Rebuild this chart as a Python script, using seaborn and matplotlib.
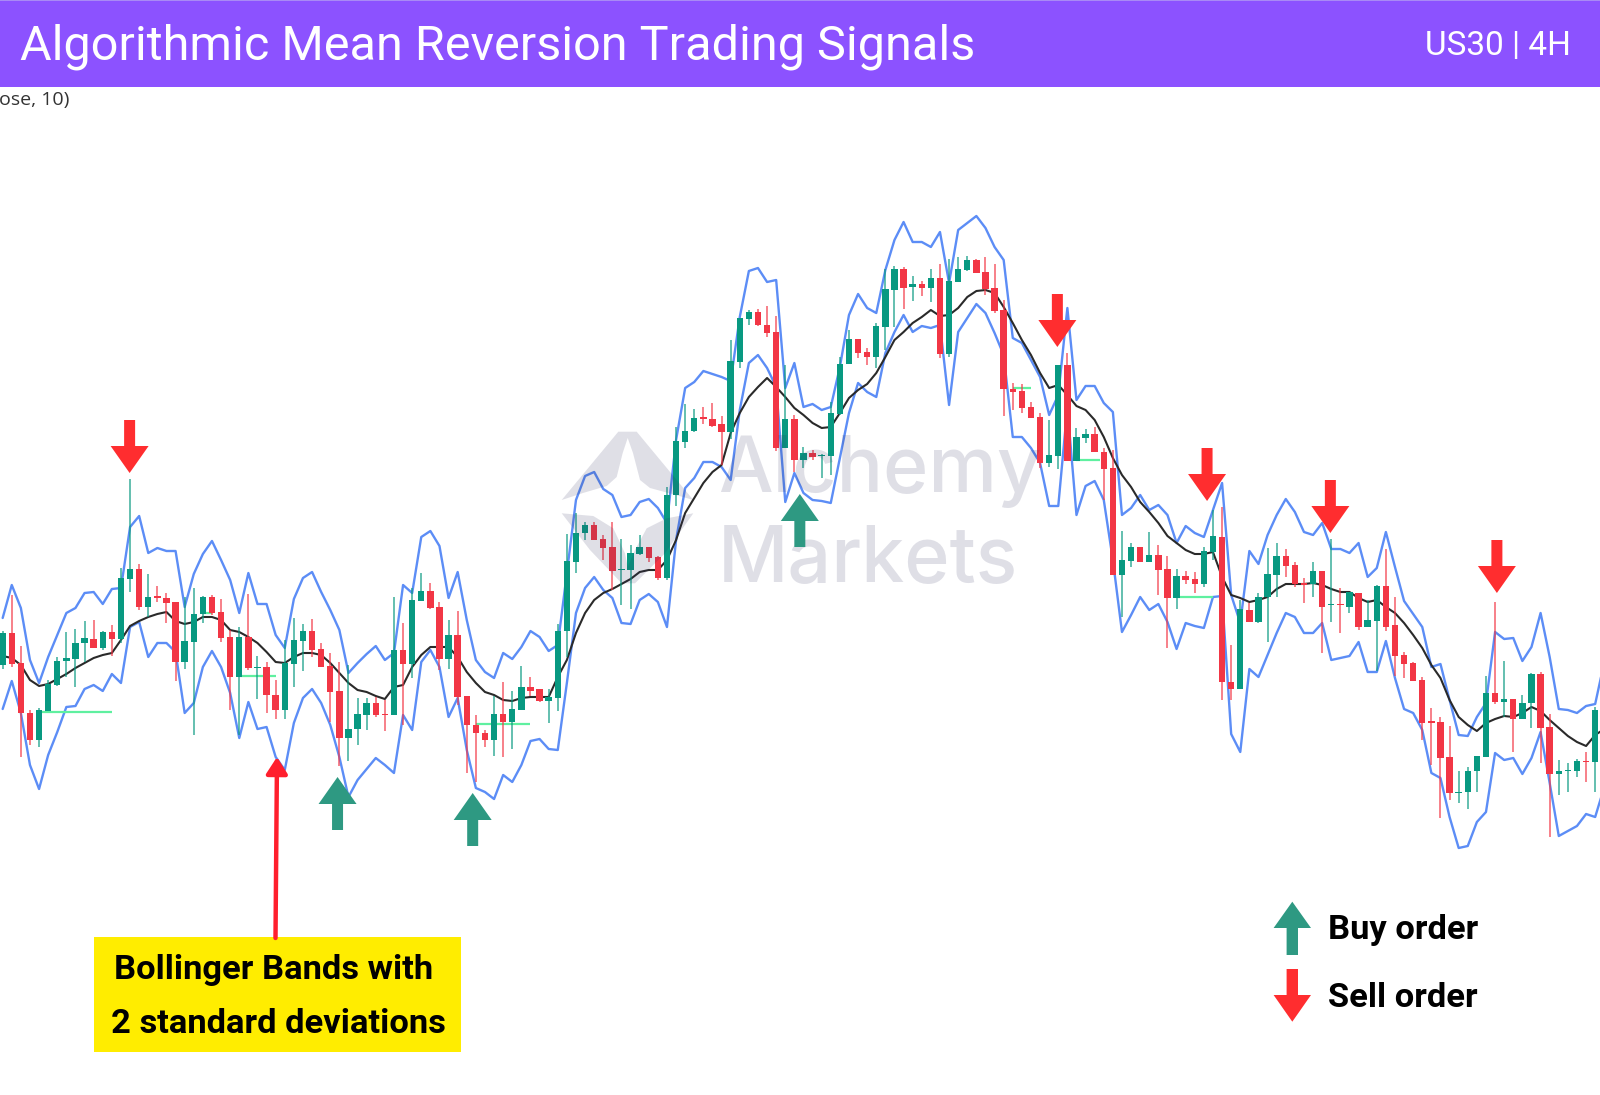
import numpy as np
import matplotlib.pyplot as plt
import seaborn as sns
from matplotlib.patches import Rectangle, Polygon

# candles, left to right (price scale is arbitrary, the chart has no axis)
open_ = [430,462,432,382,355,384,410,434,436,452,
         456,447,463,456,516,526,488,499,497,493,
         433,453,481,498,483,458,418,458,427,428,
         400,385,431,454,464,446,429,404,357,366,
         380,392,381,380,445,431,494,504,488,436,
         460,399,370,362,355,381,373,385,408,406,
         394,397,464,533,562,570,556,548,525,525,
         541,548,538,517,600,653,664,678,676,671,
         663,733,776,783,770,763,647,676,635,642,
         639,639,681,731,756,743,738,768,805,826,
         808,811,807,817,741,813,825,835,823,807,
         785,706,704,688,678,632,639,730,634,657,
         661,643,627,520,534,548,533,540,526,497,
         519,516,511,543,558,413,406,485,473,498,
         520,539,530,512,511,524,490,491,488,502,
         468,474,509,470,440,432,415,374,373,338,
         302,303,324,338,402,393,396,376,392,421,
         368,321,324,324,334,333]
close = [462,431,382,355,385,411,434,437,452,457,
         447,463,456,517,526,488,498,497,492,433,
         454,481,498,482,457,418,458,427,428,400,
         385,432,455,464,445,428,403,357,366,381,
         392,380,380,445,431,495,504,487,436,460,
         398,370,362,355,381,373,386,408,404,394,
         398,464,534,562,570,555,547,524,526,542,
         548,537,517,600,654,664,677,676,669,663,
         734,777,783,770,762,647,676,635,642,638,
         640,682,731,756,742,738,769,806,826,807,
         811,807,817,741,814,826,835,822,806,784,
         706,703,687,677,632,640,730,634,658,661,
         643,626,520,535,548,533,540,525,497,519,
         515,511,544,559,413,406,486,473,498,521,
         539,529,511,510,524,488,491,490,503,468,
         475,509,468,439,431,414,372,372,337,302,
         303,324,339,402,393,396,376,392,421,367,
         321,324,325,334,333,385]
high = [464,500,449,385,387,415,438,463,466,474,
        475,464,470,527,616,531,521,509,502,493,
        498,507,499,500,496,465,468,501,439,433,
        415,455,477,471,476,452,442,433,430,397,
        397,398,395,498,472,507,522,512,493,475,
        484,399,380,365,399,413,404,429,418,406,
        406,471,561,582,573,573,560,573,556,550,
        560,548,539,608,668,691,686,688,692,679,
        755,777,785,786,789,779,730,680,648,645,
        641,693,738,765,756,747,772,826,829,828,
        819,814,826,831,836,838,839,836,838,831,
        795,712,711,693,682,675,730,742,667,666,
        668,647,645,564,552,548,563,550,539,526,
        524,523,548,585,588,450,495,492,502,547,
        552,546,533,517,533,524,556,507,503,502,
        495,510,546,498,443,433,418,387,378,369,
        324,328,339,419,493,434,396,400,422,423,
        381,335,332,336,343,388]
low = [426,428,338,350,348,384,409,418,408,433,
       447,445,439,452,503,485,478,493,472,414,
       426,360,472,480,453,385,360,425,396,382,
       376,376,408,424,438,428,373,329,334,350,
       365,378,364,380,370,417,494,486,425,426,
       390,322,313,348,339,338,346,385,399,393,
       372,384,438,522,555,555,535,505,490,486,
       540,533,515,515,589,647,663,671,668,630,
       656,727,770,769,758,644,647,623,627,635,
       617,620,680,731,737,730,727,745,768,786,
       794,799,793,737,738,813,824,822,800,782,
       679,685,682,677,627,628,626,634,634,652,
       643,595,520,478,528,533,533,500,447,486,
       511,502,508,535,395,395,406,473,472,453,
       498,518,508,492,498,442,473,462,482,465,
       468,424,464,419,417,414,355,330,277,295,
       292,286,303,338,391,378,343,376,367,332,
       258,300,303,318,313,303]

# Bollinger bands and the SMA, one point per bar plus one off the right edge
upper = [477,510,487,435,412,438,460,482,487,502,
         503,491,506,507,568,579,542,547,544,544,
         488,521,541,554,535,515,482,522,491,491,
         460,447,496,517,523,503,485,465,422,432,
         441,449,435,442,510,502,558,564,549,497,
         523,475,435,423,417,442,436,448,464,458,
         444,450,522,595,619,623,606,600,578,580,
         593,596,587,572,655,707,713,724,721,718,
         714,778,824,827,813,815,707,732,688,691,
         685,688,728,780,801,787,782,825,855,873,
         853,853,848,863,812,865,872,879,867,848,
         835,757,752,735,718,680,700,787,695,709,
         709,692,683,580,587,600,585,590,580,552,
         569,562,558,585,612,500,472,544,531,560,
         580,596,583,563,560,572,546,546,542,552,
         518,527,563,528,494,481,468,428,431,395,
         360,359,378,392,463,456,457,434,448,482,
         438,386,385,382,389,391,433]
lower = [386,414,382,330,306,340,363,388,389,406,
         410,404,421,412,468,473,438,452,452,443,
         382,392,428,444,428,402,357,393,366,368,
         338,325,372,397,406,392,370,338,298,315,
         326,337,330,322,380,365,433,445,428,378,
         397,345,307,303,296,320,313,330,354,356,
         346,345,412,482,507,518,505,497,472,471,
         495,501,493,468,555,607,617,633,633,628,
         615,685,732,740,727,708,593,622,602,595,
         594,592,637,682,712,703,698,742,763,780,
         763,769,767,770,690,763,777,791,782,762,
         740,658,658,647,632,589,589,688,580,609,
         614,595,535,463,480,498,485,491,473,446,
         472,469,467,498,499,361,343,426,418,440,
         462,482,478,462,462,472,435,437,439,453,
         423,423,454,417,386,382,365,322,317,278,
         247,249,273,283,342,335,337,321,337,363,
         312,259,264,269,281,278,308]
sma = [439,437,430,415,409,411,416,421,427,432,
       437,440,442,455,469,474,478,481,483,474,
       471,473,478,478,475,465,463,458,452,443,
       433,432,438,442,442,440,432,422,412,405,
       403,399,396,408,410,428,440,448,448,448,
       438,423,412,403,400,395,394,397,398,398,
       398,418,435,462,482,495,502,506,511,516,
       523,525,525,535,555,582,597,612,623,630,
       662,682,698,708,717,708,698,687,680,672,
       667,668,682,697,705,711,722,738,755,763,
       772,778,785,779,780,787,798,804,805,802,
       788,772,755,740,722,707,710,700,689,685,
       675,658,637,620,608,593,583,572,559,552,
       545,541,541,543,518,500,497,493,495,498,
       506,511,511,511,512,510,506,503,503,497,
       493,495,488,482,472,460,447,430,417,395,
       378,370,364,372,376,379,378,382,388,384,
       375,367,359,353,349,360,366]

# light green level lines: (first bar, last bar, price)
level_start = [4, 26, 52, 111, 118, 129.2, 22]
level_end = [12, 30, 58, 113, 120.6, 133, 23]
level_price = [383, 419, 371, 707, 635, 498, 482]

# trade signals: bar position and the price the arrow tip points at
sell_x = [13.95, 115.9, 132.35, 145.9, 164.2]
sell_price = [622, 748, 594, 562, 502]
buy_x = [36.8, 51.65, 87.6]
buy_price = [318, 302, 601]

GREEN = "#089981"
RED = "#F23645"
BLUE = "#5C8DF6"
BUY_COL = "#2E9982"
SELL_COL = "#FF2D2F"
PURPLE = "#8C52FF"

sns.set_theme(style="white")
plt.rcParams["font.family"] = ["Roboto", "DejaVu Sans"]

fig = plt.figure(figsize=(16, 10.95), dpi=100)
ax = fig.add_axes([0, 0, 1, 1], zorder=1)
ax.set_axis_off()

# second layer measured in pixels, y going down, for the page furniture
ov = fig.add_axes([0, 0, 1, 1], zorder=2)
ov.set_xlim(0, 1600)
ov.set_ylim(1095, 0)
ov.set_axis_off()
ov.patch.set_alpha(0)

# lines go under the candles
band_x = np.arange(len(upper))
sns.lineplot(x=band_x, y=upper, ax=ax, color=BLUE, lw=1.7, zorder=2, errorbar=None)
sns.lineplot(x=band_x, y=lower, ax=ax, color=BLUE, lw=1.7, zorder=2, errorbar=None)
sns.lineplot(x=band_x, y=sma, ax=ax, color="#2A2A2A", lw=1.5, zorder=2, errorbar=None)

ax.hlines(level_price, level_start, level_end, color="#5FF0A0", lw=1.6, zorder=2)

bars = np.arange(len(open_))
o = np.array(open_)
c = np.array(close)
colors = [GREEN if up else RED for up in c > o]
ax.vlines(bars, low, high, color=colors, lw=1.1, alpha=0.8, zorder=3)
ax.bar(bars, np.abs(c - o), bottom=np.minimum(o, c), width=0.7, color=colors, lw=0, zorder=4)

# watermark sits on top of the candles and tints them slightly
WM = "#2B2B5B"
ax.add_patch(Polygon([(561.7,500),(618.3,431.7),(636.7,431.7),(693.3,500),(683,497),(650,488),(640,480),
                      (633,453),(627.7,438),(622.7,453),(616.7,477),(606.7,486),(583,493)],
                     closed=True, color=WM, alpha=0.15, lw=0, transform=ov.transData, zorder=5))
ax.add_patch(Polygon([(561.7,513.3),(593.3,516),(613.3,528.3),(625,553.3),(627.7,566.7),(635,550),(646.7,528.3),
                      (666.7,518.3),(693.3,513.3),(665,553.3),(635,583.3),(621.7,583.3),(590,550)],
                     closed=True, color=WM, alpha=0.15, lw=0, transform=ov.transData, zorder=5))
ax.text(718, 492, "Alchemy", transform=ov.transData, family="Inter", fontsize=55.5, fontweight="medium",
        color=WM, alpha=0.15, zorder=5, va="baseline")
ax.text(718, 582, "Markets", transform=ov.transData, family="Inter", fontsize=55.5, fontweight="medium",
        color=WM, alpha=0.15, zorder=5, va="baseline")


def signal_arrow(x, tip, up, color):
    # 38px wide head, 11px shaft, 53px tall, expressed in bar/price units
    s = 1 if up else -1
    hw, sw = 19 / 9.1, 5.5 / 9.1
    xs = [x, x + hw, x + sw, x + sw, x - sw, x - sw, x - hw]
    ys = [tip, tip - s * 27, tip - s * 27, tip - s * 53, tip - s * 53, tip - s * 27, tip - s * 27]
    ax.fill(xs, ys, color=color, lw=0, zorder=6)


for x, p in zip(sell_x, sell_price):
    signal_arrow(x, p, False, SELL_COL)
for x, p in zip(buy_x, buy_price):
    signal_arrow(x, p, True, BUY_COL)

ax.set_xlim(-0.293, 175.53)
ax.set_ylim(0, 1095)

# header band
ov.add_patch(Rectangle((0, 0), 1600, 87, color=PURPLE, lw=0))
ov.add_patch(Rectangle((0, 0), 1600, 1.2, color="#A98AF5", lw=0))
ov.text(20, 59, "Algorithmic Mean Reversion Trading Signals", color="white", fontsize=35, va="baseline")
ov.text(1425, 55, "US30 | 4H", color="white", fontsize=24, va="baseline")
ov.text(69, 105, "ose, 10)", color="#333333", fontsize=14, ha="right", va="baseline", family="Open Sans")

# callout
BOLD = dict(fontweight="bold", fontsize=24.8, color="black", va="baseline")
ov.add_patch(Rectangle((94, 937), 367, 115, color="#FFED00", lw=0))
ov.text(114, 979, "Bollinger Bands with", **BOLD)
ov.text(111, 1033, "2 standard deviations", **BOLD)
ov.annotate("", xy=(277, 757), xytext=(275.5, 938),
            arrowprops=dict(arrowstyle="-|>,head_width=0.32,head_length=0.5", color="#FF1F2D", lw=3.2, mutation_scale=20,
                            shrinkA=0, shrinkB=0))

# legend
ov.add_patch(Polygon([(1292.3,901.7),(1311,928),(1298,928),(1298,955),(1286.6,955),(1286.6,928),(1273.6,928)],
                     closed=True, color=BUY_COL, lw=0))
ov.add_patch(Polygon([(1292.3,1021.7),(1311,995),(1298,995),(1298,969),(1286.6,969),(1286.6,995),(1273.6,995)],
                     closed=True, color=SELL_COL, lw=0))
ov.text(1328, 939, "Buy order", **BOLD)
ov.text(1328, 1007, "Sell order", **BOLD)

fig.savefig("out.png", dpi=100)
